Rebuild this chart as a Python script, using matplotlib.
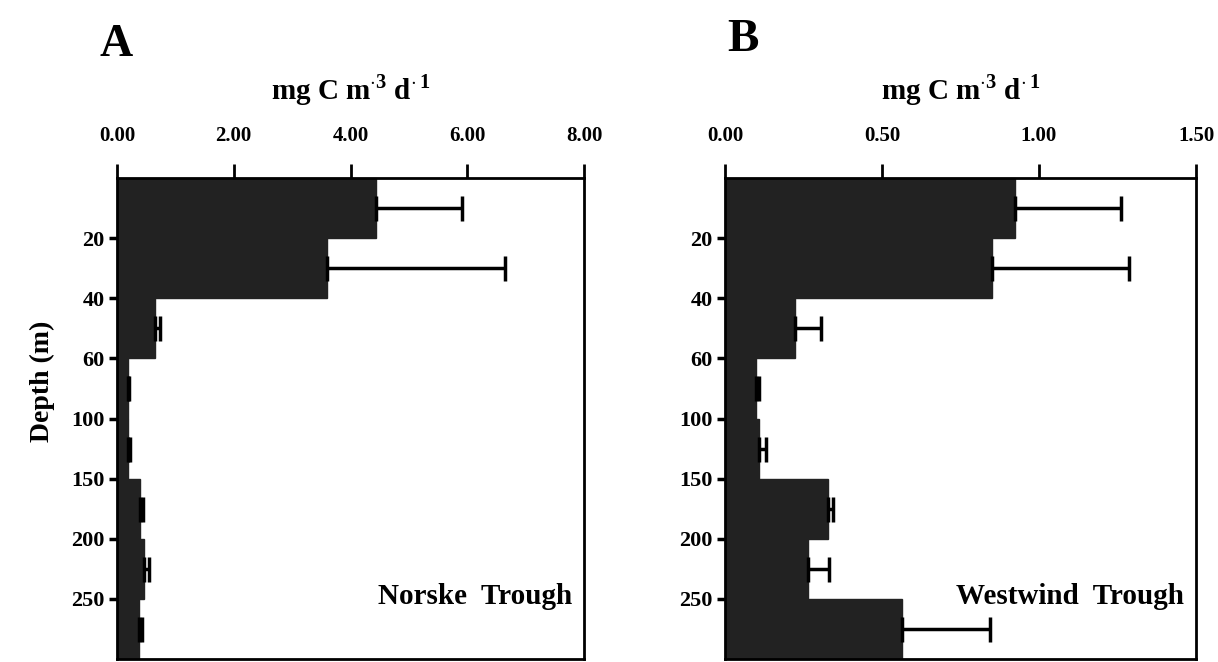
import matplotlib
matplotlib.use("Agg")
import matplotlib.pyplot as plt
import numpy as np

# ---- data ----
depth_tick_labels = ['20', '40', '60', '100', '150', '200', '250']
n_bins = 8

norske_mean = [4.43, 3.59, 0.65, 0.18, 0.18, 0.39, 0.46, 0.37]
norske_err = [1.48, 3.06, 0.09, 0.02, 0.05, 0.05, 0.09, 0.05]

westwind_mean = [0.924, 0.849, 0.224, 0.098, 0.109, 0.329, 0.265, 0.565]
westwind_err = [0.338, 0.437, 0.082, 0.010, 0.020, 0.015, 0.067, 0.280]

a_xticks = [0, 2, 4, 6, 8]
b_xticks = [0, 0.5, 1.0, 1.5]

plt.rcParams['font.family'] = ['Liberation Serif', 'DejaVu Serif']
plt.rcParams['font.weight'] = 'bold'
plt.rcParams['mathtext.fontset'] = 'custom'
plt.rcParams['mathtext.rm'] = 'Liberation Serif:bold'
plt.rcParams['mathtext.bf'] = 'Liberation Serif:bold'

fig = plt.figure(figsize=(12.18, 6.62), dpi=100)

W, H = 1218, 662
def ax_rect(l, r, t, b):
    return [l / W, 1 - b / H, (r - l) / W, (b - t) / H]

axA = fig.add_axes(ax_rect(117, 584, 178, 659))
axB = fig.add_axes(ax_rect(725, 1196, 178, 659))

bar_color = '#222222'
centers = np.arange(n_bins) + 0.5

def draw(ax, means, errs, xmax, xticks, label):
    lower = np.zeros(len(errs))
    ax.barh(centers, means, height=1.0, color=bar_color, edgecolor=bar_color,
            xerr=np.vstack([lower, errs]),
            error_kw=dict(ecolor='black', elinewidth=2.5, capsize=9, capthick=2.5))
    ax.set_xlim(0, xmax)
    ax.set_ylim(n_bins, 0)
    ax.xaxis.tick_top()
    ax.set_xticks(xticks)
    ax.set_xticklabels([f'{v:.2f}' for v in xticks], fontsize=15, fontweight='bold')
    ax.set_yticks(np.arange(1, n_bins))
    ax.set_yticklabels(depth_tick_labels, fontsize=16, fontweight='bold')
    ax.tick_params(axis='x', direction='out', length=10, width=2, pad=13)
    ax.tick_params(axis='y', direction='out', length=6, width=2.5, pad=3)
    for s in ax.spines.values():
        s.set_linewidth(2)
    ax.text(0.975, 0.13, label, transform=ax.transAxes, ha='right', va='center',
            fontsize=21, fontweight='bold')
    ax.set_title(r'mg C m$^{\cdot 3}$ d$^{\cdot\, 1}$', fontsize=21, fontweight='bold', pad=57)

draw(axA, norske_mean, norske_err, 8, a_xticks, 'Norske  Trough')
draw(axB, westwind_mean, westwind_err, 1.5, b_xticks, 'Westwind  Trough')

axA.set_ylabel('Depth (m)', fontsize=20, fontweight='bold')
axA.yaxis.set_label_coords(-0.132, 0.578)

fig.text(100 / W, 1 - 45 / H, 'A', fontsize=33, fontweight='bold', va='center', ha='left')
fig.text(727 / W, 1 - 40 / H, 'B', fontsize=34, fontweight='bold', va='center', ha='left')

fig.savefig('out.png', dpi=100)
